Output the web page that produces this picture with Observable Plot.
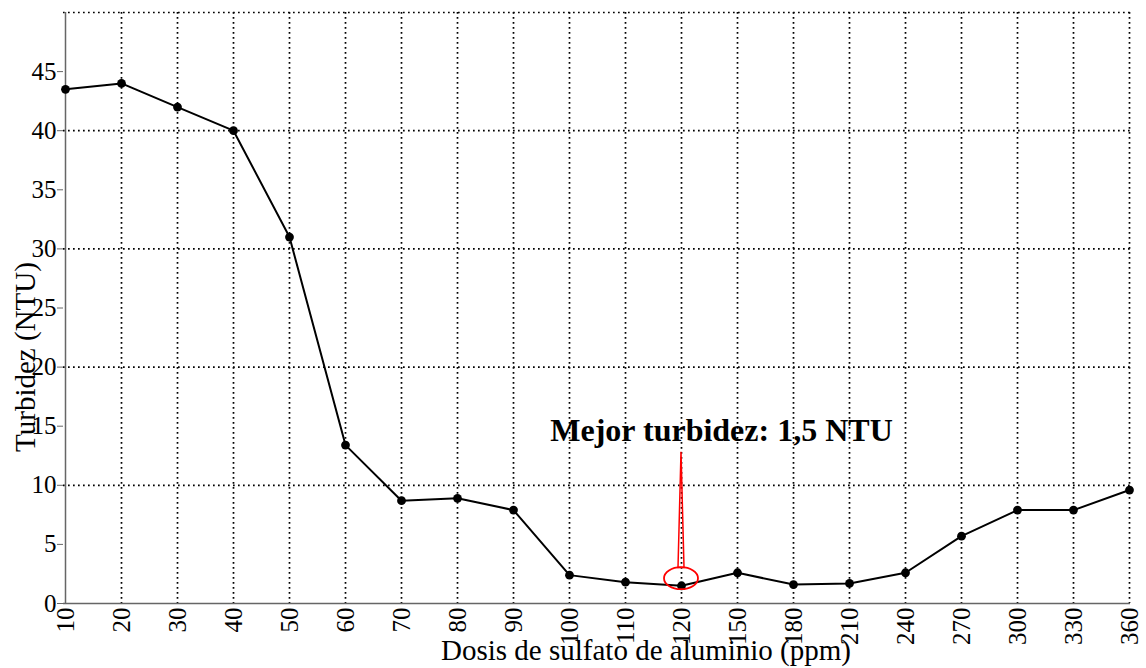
<!DOCTYPE html>
<html><head><meta charset="utf-8">
<script src="https://cdn.jsdelivr.net/npm/d3@7"></script>
<script src="https://cdn.jsdelivr.net/npm/@observablehq/plot@0.6"></script>
<style>
html,body{margin:0;padding:0;background:#fff;}
svg text{font-family:'Liberation Serif','Times New Roman',serif !important;}
</style>
</head><body><div id="chart"></div>
<script>
const doses = ["10","20","30","40","50","60","70","80","90","100","110","120","150","180","210","240","270","300","330","360"];
const turbidity = [43.5,44,42,40,31,13.4,8.7,8.9,7.9,2.4,1.8,1.5,2.6,1.6,1.7,2.6,5.7,7.9,7.9,9.6];
const yTicks = [0,5,10,15,20,25,30,35,40,45];
const yGrid = [10,20,30,40,50];
const xLabel = "Dosis de sulfato de aluminio (ppm)";
const yLabel = "Turbidez (NTU)";
const noteText = "Mejor turbidez: 1,5 NTU";
const noteDose = "120";
const noteTextY = 14.6;
const pointerTop = 12.8;
const pointerBottom = 3.0;
const circleY = 2.1;

const data = doses.map((d, i) => ({dose: d, value: turbidity[i]}));
const font = "'Liberation Serif', 'Times New Roman', serif";

const chart = Plot.plot({
  width: 1146,
  height: 668,
  marginLeft: 63,
  marginRight: 16,
  marginTop: 12,
  marginBottom: 65,
  style: {fontFamily: font, fontSize: "25px", background: "white", color: "black"},
  x: {type: "point", domain: doses, padding: 0},
  y: {domain: [0, 50]},
  marks: [
    Plot.gridX(doses.slice(1), {stroke: "black", strokeOpacity: 1, strokeWidth: 1.7, strokeDasharray: "1.7,3.3"}),
    Plot.gridY(yGrid, {stroke: "black", strokeOpacity: 1, strokeWidth: 1.7, strokeDasharray: "1.7,3.3"}),
    Plot.ruleX([doses[0]], {stroke: "#666", strokeWidth: 1.5}),
    Plot.ruleY([0], {stroke: "#666", strokeWidth: 1.5}),
    Plot.axisY({ticks: yTicks, tickSize: 6, tickPadding: 1, stroke: "#666", fontSize: 25, fontFamily: font, label: null, tickFormat: d => String(d)}),
    Plot.axisX({tickRotate: -90, tickSize: 0, tickPadding: 4, fontSize: 25, fontFamily: font, label: null}),
    Plot.line(data, {x: "dose", y: "value", stroke: "black", strokeWidth: 2}),
    Plot.dot(data, {x: "dose", y: "value", r: 4.4, fill: "black"}),
    Plot.text([xLabel], {frameAnchor: "bottom", dx: 49, dy: 56, fontSize: 29, fontFamily: font, fill: "black"}),
    Plot.text([yLabel], {frameAnchor: "left", textAnchor: "middle", rotate: -90, dx: -38, dy: 49, fontSize: 29, fontFamily: font, fill: "black"}),
    Plot.text([noteText], {x: () => noteDose, y: () => noteTextY, dx: 40, fontSize: 32, fontWeight: "bold", fontFamily: font, fill: "black"})
  ]
});

document.getElementById("chart").appendChild(chart);

const svg = d3.select(chart);
svg.selectAll("text").style("font-family", font);

// red callout drawn using the chart's own scales
const sx = chart.scale("x"), sy = chart.scale("y");
const px = sx.apply(noteDose);
const yT = sy.apply(pointerTop), yB = sy.apply(pointerBottom), yC = sy.apply(circleY);
svg.append("path")
  .attr("d", `M${px},${yT} L${px - 3},${yB} L${px + 3},${yB} Z`)
  .attr("fill", "none").attr("stroke", "red").attr("stroke-width", 1.5);
svg.append("ellipse")
  .attr("cx", px).attr("cy", yC).attr("rx", 17).attr("ry", 11)
  .attr("fill", "none").attr("stroke", "red").attr("stroke-width", 1.8);
</script>
</body></html>
